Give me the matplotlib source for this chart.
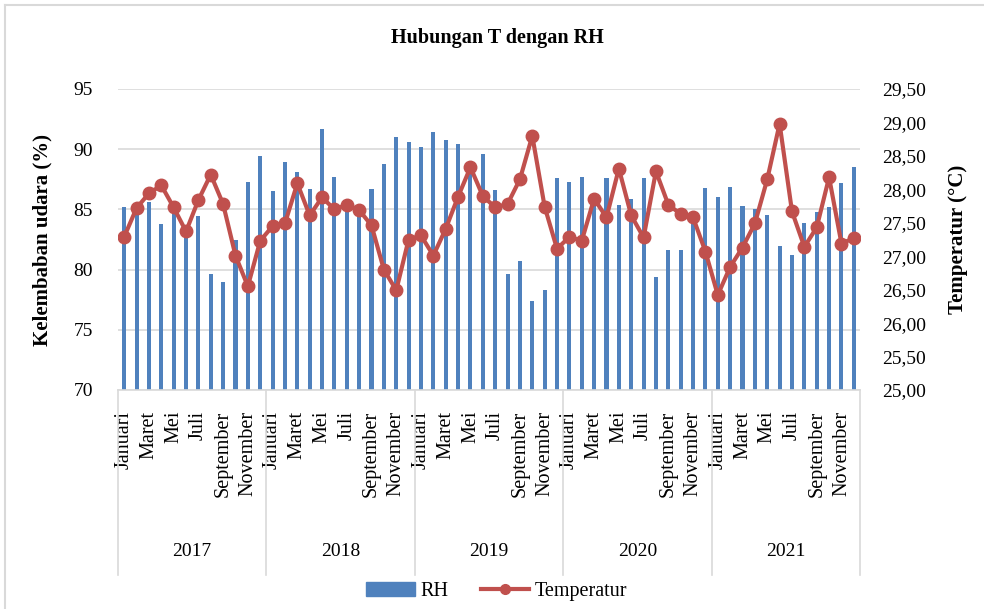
import matplotlib
matplotlib.use("Agg")
import matplotlib.pyplot as plt
import matplotlib.transforms as mtransforms
from matplotlib.lines import Line2D
from matplotlib.patches import Patch

plt.rcParams['font.family'] = ['Liberation Serif', 'DejaVu Serif']

years = ['2017', '2018', '2019', '2020', '2021']
months = ['Januari', 'Februari', 'Maret', 'April', 'Mei', 'Juni', 'Juli',
          'Agustus', 'September', 'Oktober', 'November', 'Desember']

rh = [85.2, 85.4, 85.6, 83.8, 84.7, 83.0, 84.45, 79.6, 79.0, 82.5, 87.25, 89.4,
      86.5, 88.9, 88.1, 86.7, 91.7, 87.7, 85.6, 85.0, 86.7, 88.75, 91.0, 90.6,
      90.15, 91.45, 90.8, 90.4, 88.5, 89.6, 86.6, 79.6, 80.75, 77.4, 78.3, 87.6,
      87.3, 87.7, 86.4, 87.6, 85.4, 85.9, 87.6, 79.4, 81.6, 81.6, 84.3, 86.75,
      86.0, 86.85, 85.3, 85.0, 84.5, 82.0, 81.2, 83.9, 84.75, 85.2, 87.2, 88.55]

temp = [27.29, 27.72, 27.94, 28.06, 27.73, 27.37, 27.84, 28.22, 27.78, 27.01, 26.55, 27.23,
        27.45, 27.49, 28.09, 27.61, 27.88, 27.70, 27.77, 27.69, 27.46, 26.80, 26.49, 27.25,
        27.31, 27.01, 27.41, 27.89, 28.33, 27.90, 27.73, 27.78, 28.15, 28.80, 27.74, 27.11,
        27.29, 27.23, 27.86, 27.58, 28.31, 27.61, 27.28, 28.27, 27.77, 27.63, 27.58, 27.07,
        26.42, 26.84, 27.13, 27.49, 28.15, 28.98, 27.67, 27.14, 27.43, 28.18, 27.19, 27.27]

blue = '#4F81BD'
red = '#C0504D'
grid = '#D9D9D9'

fig = plt.figure(figsize=(9.84, 6.09), dpi=100)
ax = fig.add_axes([118 / 984, 1 - 390 / 609, 742 / 984, 301 / 609])

x = list(range(len(rh)))
ax.bar(x, rh, width=0.33, color=blue, zorder=2)
ax.set_xlim(-0.5, len(rh) - 0.5)
ax.set_ylim(70, 95)
ax.set_yticks([70, 75, 80, 85, 90, 95])
ax.yaxis.grid(True, color=grid, lw=1.2, zorder=0)
ax.set_axisbelow(True)
for s in ['top', 'left', 'right']:
    ax.spines[s].set_visible(False)
ax.spines['bottom'].set_color(grid)
ax.spines['bottom'].set_linewidth(1.2)

ticks = list(range(0, len(rh), 2))
labels = [months[i % 12] for i in ticks]
ax.set_xticks(ticks)
ax.set_xticklabels(labels, rotation=90, fontsize=14.5, va='top', ha='center')
ax.tick_params(axis='x', length=0, pad=15)
ax.tick_params(axis='y', length=0, pad=18, labelsize=14)
ax.set_ylabel('Kelembaban udara (%)', fontsize=15, fontweight='bold', labelpad=15)

ax2 = ax.twinx()
ax2.plot(x, temp, color=red, lw=3, marker='o', markersize=9, zorder=3)
ax2.set_ylim(25, 29.5)
t_ticks = [25 + 0.5 * i for i in range(10)]
ax2.set_yticks(t_ticks)
ax2.set_yticklabels([f'{t:.2f}'.replace('.', ',') for t in t_ticks])
ax2.tick_params(axis='y', length=0, pad=16, labelsize=14)
for s in ['top', 'left', 'right', 'bottom']:
    ax2.spines[s].set_visible(False)
ax2.set_ylabel('Temperatur (°C)', fontsize=15, fontweight='bold', labelpad=16)

# year groups under the month labels
trans = mtransforms.blended_transform_factory(ax.transData, ax.transAxes)
for i in range(len(years) + 1):
    xb = i * 12 - 0.5
    ax.add_line(Line2D([xb, xb], [0, -0.615], transform=trans, color=grid,
                       lw=1.2, clip_on=False))
for i, yr in enumerate(years):
    ax.text(i * 12 + 5.5, -0.535, yr, transform=trans, ha='center', va='center',
            fontsize=14)

fig.text(0.505, 0.938, 'Hubungan T dengan RH', ha='center', va='center',
         fontsize=14.5, fontweight='bold')

handles = [Patch(color=blue, label='RH'),
           Line2D([0], [0], color=red, lw=3, marker='o', markersize=7, label='Temperatur')]
fig.legend(handles=handles, loc='center', bbox_to_anchor=(0.505, 0.028), ncol=2,
           frameon=False, fontsize=14.5, handlelength=2.4, columnspacing=1.6,
           handletextpad=0.3)

# chart frame
fig.add_artist(Line2D([5 / 984, 5 / 984], [0, 1 - 5 / 609], transform=fig.transFigure,
                      color=grid, lw=1.5))
fig.add_artist(Line2D([5 / 984, 1], [1 - 5 / 609, 1 - 5 / 609], transform=fig.transFigure,
                      color=grid, lw=1.5))

fig.savefig('out.png', dpi=100)
